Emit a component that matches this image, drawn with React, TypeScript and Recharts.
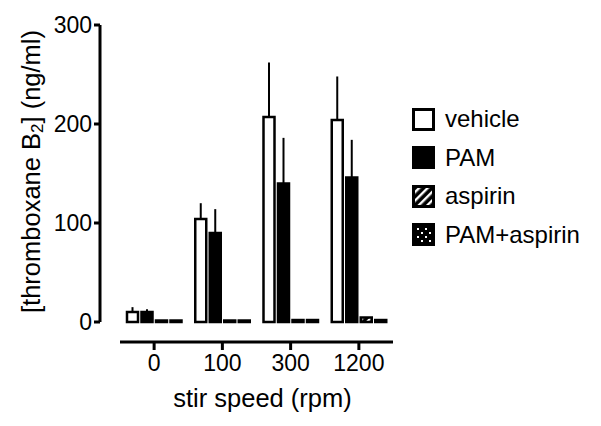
import React from 'react';
import { BarChart, Bar, XAxis, YAxis, ErrorBar, Legend } from 'recharts';

const speeds = ['0', '100', '300', '1200'];
const vehicle = [10, 104, 207, 204];
const vehicleErr = [5, 16, 55, 44];
const pam = [10, 90, 140, 146];
const pamErr = [3, 24, 46, 38];
const aspirin = [1.5, 1.5, 2, 4.5];
const pamAspirin = [1.5, 1.5, 2, 2];
const yTicks = [0, 100, 200, 300];

const FONT = '"Liberation Sans", Arial, Helvetica, sans-serif';

const data = speeds.map((s, i) => ({
    speed: s,
    vehicle: vehicle[i],
    vehicleErr: [0, vehicleErr[i]],
    pam: pam[i],
    pamErr: [0, pamErr[i]],
    aspirin: aspirin[i],
    pamAspirin: pamAspirin[i],
}));

const series = [
    { key: 'vehicle', name: 'vehicle', fill: '#ffffff' },
    { key: 'pam', name: 'PAM', fill: '#000000' },
    { key: 'aspirin', name: 'aspirin', fill: 'url(#hatch)' },
    { key: 'pamAspirin', name: 'PAM+aspirin', fill: 'url(#dots)' },
];

const Patterns = ({ prefix }: { prefix: string }) => (
    <defs>
        <pattern id={`${prefix}hatch`} width={6} height={6} patternUnits="userSpaceOnUse" patternTransform="rotate(45)">
            <rect width={6} height={6} fill="#000" />
            <rect x={0} y={0} width={2.4} height={6} fill="#fff" />
        </pattern>
        <pattern id={`${prefix}dots`} width={8} height={8} patternUnits="userSpaceOnUse">
            <rect width={8} height={8} fill="#000" />
            <rect x={1} y={1} width={2} height={2} fill="#fff" />
            <rect x={5} y={5} width={2} height={2} fill="#fff" />
        </pattern>
    </defs>
);

const LegendContent = () => (
    <div style={{ fontFamily: FONT, fontSize: 24, color: '#000' }}>
        {series.map(s => {
            const fill = s.fill.startsWith('url') ? s.fill.replace('#', '#lg-') : s.fill;
            return (
                <div key={s.key} style={{ display: 'flex', alignItems: 'center', height: 38.5 }}>
                    <svg width={23} height={23} style={{ display: 'block' }}>
                        <Patterns prefix="lg-" />
                        <rect x={1.5} y={1.5} width={20} height={20} fill={fill} stroke="#000" strokeWidth={3} />
                    </svg>
                    <span style={{ marginLeft: 10, lineHeight: 1 }}>{s.name}</span>
                </div>
            );
        })}
    </div>
);

const XTitle = ({ viewBox }: any) => {
    if (!viewBox) return null;
    return (
        <text
            x={viewBox.x + viewBox.width / 2 + 16}
            y={viewBox.y + viewBox.height - 19}
            textAnchor="middle"
            fontFamily={FONT}
            fontSize={25.5}
            fill="#000"
        >
            stir speed (rpm)
        </text>
    );
};

const YTitle = ({ viewBox }: any) => {
    if (!viewBox) return null;
    const cx = viewBox.x + 31;
    const cy = viewBox.y + 146.5;
    return (
        <text
            x={cx}
            y={cy}
            transform={`rotate(-90 ${cx} ${cy})`}
            textAnchor="middle"
            dominantBaseline="central"
            fontFamily={FONT}
            fontSize={25.5}
            fill="#000"
        >
            [thromboxane B<tspan fontSize={17} dy={6}>2</tspan>
            <tspan dy={-6}>] (ng/ml)</tspan>
        </text>
    );
};

export default function App() {
    return (
        <div style={{ position: 'absolute', left: 0, top: 0, background: '#fff' }}>
            <BarChart
                width={601}
                height={426}
                data={data}
                margin={{ top: 25, right: 208, bottom: 0, left: 0 }}
                barSize={11}
                barGap={3.5}
            >
                <Patterns prefix="" />
                <XAxis
                    dataKey="speed"
                    height={84}
                    padding={{ left: 20, right: 0 }}
                    axisLine={{ stroke: '#000', strokeWidth: 3, strokeDasharray: '0 20 273 100' }}
                    tickLine={{ stroke: '#000', strokeWidth: 3 }}
                    tickSize={8}
                    tickMargin={5}
                    tick={{ fill: '#000', fontSize: 23, fontFamily: FONT }}
                    label={<XTitle />}
                />
                <YAxis
                    width={100}
                    domain={[0, 300]}
                    ticks={yTicks}
                    padding={{ top: 0, bottom: 20 }}
                    axisLine={{ stroke: '#000', strokeWidth: 3, strokeDasharray: '297 100' }}
                    tickLine={{ stroke: '#000', strokeWidth: 3 }}
                    tickSize={6}
                    tickMargin={2}
                    tick={{ fill: '#000', fontSize: 23, fontFamily: FONT }}
                    label={<YTitle />}
                />
                <Legend
                    layout="vertical"
                    align="center"
                    verticalAlign="middle"
                    content={<LegendContent />}
                    wrapperStyle={{ left: 412, top: 100, width: 190 }}
                />
                {series.map(s => (
                    <Bar
                        key={s.key}
                        dataKey={s.key}
                        name={s.name}
                        fill={s.fill}
                        stroke="#000"
                        strokeWidth={2.5}
                        isAnimationActive={false}
                    >
                        {s.key === 'vehicle' && (
                            <ErrorBar dataKey="vehicleErr" width={0} stroke="#000" strokeWidth={2} direction="y" />
                        )}
                        {s.key === 'pam' && (
                            <ErrorBar dataKey="pamErr" width={0} stroke="#000" strokeWidth={2} direction="y" />
                        )}
                    </Bar>
                ))}
            </BarChart>
        </div>
    );
}
